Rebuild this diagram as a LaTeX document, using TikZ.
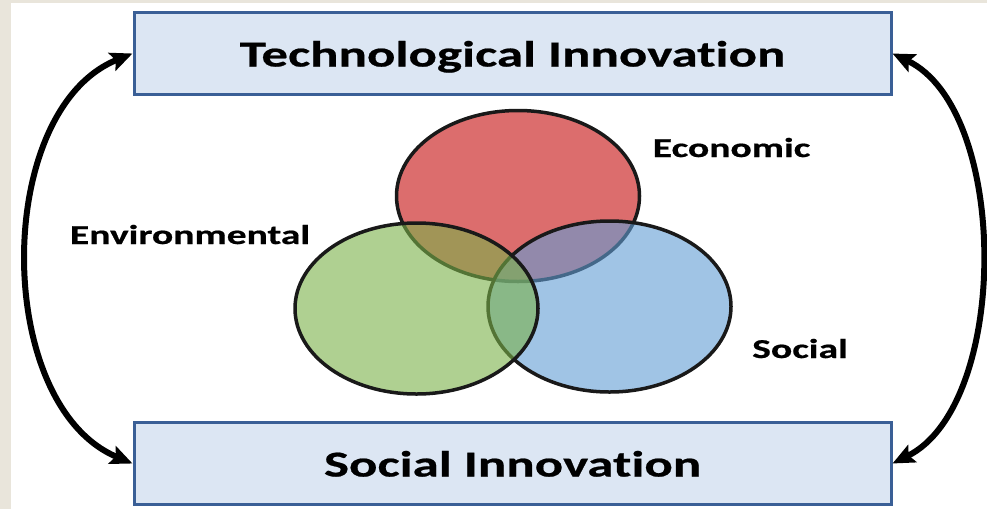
\documentclass[tikz,border=0pt]{standalone}
\usepackage{fontspec}
\usetikzlibrary{shapes.geometric,arrows.meta}
\newfontfamily\lbl{Carlito}[FakeStretch=1.45, FakeBold=0.6, Ligatures=NoCommon, RawFeature=-liga]
\definecolor{bgbeige}{RGB}{233,229,219}
\definecolor{boxfill}{RGB}{220,230,243}
\definecolor{boxline}{RGB}{58,95,150}
\definecolor{ered}{RGB}{198,13,13}
\definecolor{egreen}{RGB}{123,177,73}
\definecolor{eblue}{RGB}{97,157,213}
\definecolor{eline}{RGB}{25,25,25}
\tikzset{
  titlebox/.style={draw=boxline, line width=3pt, fill=boxfill, minimum width=757pt,
    minimum height=82pt, inner sep=0pt, text height=26pt, text depth=0pt,
    font=\lbl\bfseries\fontsize{36.5}{40}\selectfont},
  venn/.style={ellipse, draw=eline, line width=3.5pt, fill opacity=0.6,
    minimum width=243pt, minimum height=171pt, inner sep=0pt},
  lab/.style={anchor=base, inner sep=0pt, font=\lbl\bfseries\fontsize{27.3}{30}\selectfont},
  dbl/.style={line width=6pt, {Stealth[length=22pt,width=19pt,inset=4pt]}-{Stealth[length=22pt,width=19pt,inset=4pt]}}
}
\begin{document}
\begin{tikzpicture}[x=1pt,y=-1pt]
\useasboundingbox (0,0) rectangle (987,509);
\fill[bgbeige] (0,0) rectangle (987,509);
\fill[white] (11,3) rectangle (987,509);
\node[titlebox] (tech) at (512.5,53.5) {Technological Innovation};
\node[titlebox] (soc) at (512.5,463.5) {Social Innovation};
\node[venn, fill=ered] (econ) at (518,196) {};
\node[venn, fill=eblue] (socl) at (609.5,306.5) {};
\node[venn, fill=egreen] (env) at (416.5,308.5) {};
\node[lab] (leco) at (731.5,157) {Economic};
\node[lab] (lenv) at (190,244) {Environmental};
\node[lab] (lsoc) at (800,358) {Social};
\draw[dbl] (tech.west) .. controls (-7,110) and (-7,405) .. (soc.west);
\draw[dbl] (tech.east) .. controls (1010,110) and (1010,405) .. (soc.east);
\end{tikzpicture}
\end{document}
